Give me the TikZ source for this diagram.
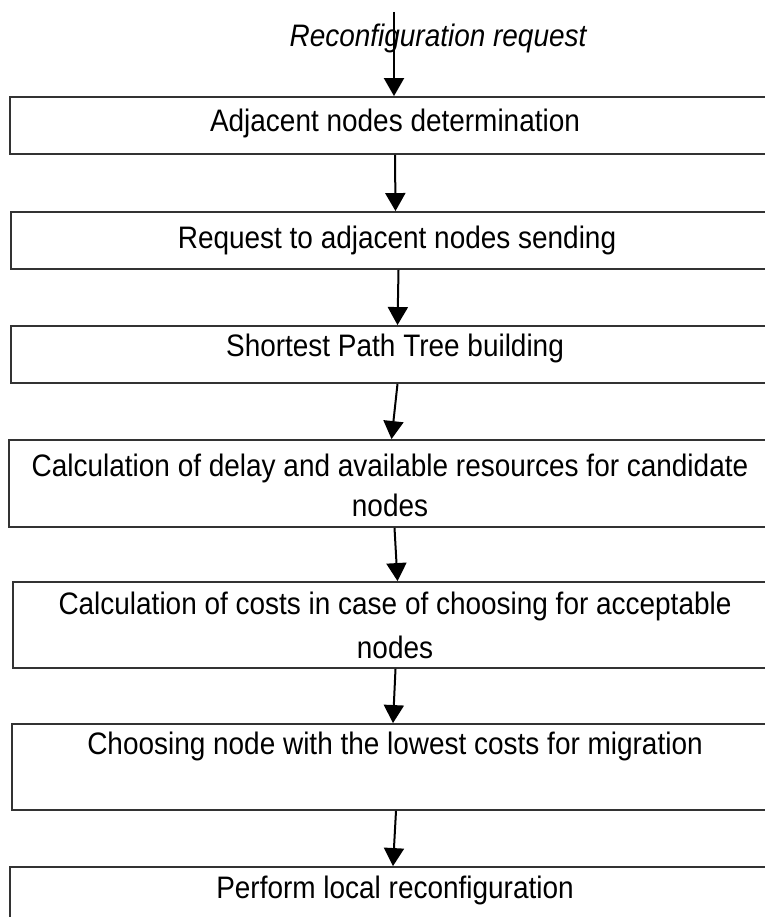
\documentclass[tikz,border=0pt]{standalone}
\usepackage{fontspec}
\setmainfont[FakeStretch=0.9]{Liberation Sans}
\usetikzlibrary{arrows.meta,fit,calc}
\definecolor{linegray}{HTML}{333333}
\begin{document}
\begin{tikzpicture}[x=0.75pt,y=-0.75pt,
  stepbox/.style={draw=linegray, line width=1.4pt, rectangle, inner sep=0pt},
  lbl/.style={font=\fontsize{23.3}{30}\selectfont, inner sep=0pt, align=center},
  arr/.style={draw=black, line width=1.5pt, -{Triangle[length=13.5pt,width=15pt]}}]
\useasboundingbox (0,0) rectangle (764,917);

% boxes
\node[stepbox, fit={(10,97) (780,154)}] (b1) {};
\node[stepbox, fit={(11,212) (780,269)}] (b2) {};
\node[stepbox, fit={(11,326) (780,383)}] (b3) {};
\node[stepbox, fit={(9,440) (780,527)}] (b4) {};
\node[stepbox, fit={(13,582) (780,668)}] (b5) {};
\node[stepbox, fit={(12,724) (780,810)}] (b6) {};
\node[stepbox, fit={(10,867) (780,940)}] (b7) {};

% texts
\node[lbl, font=\fontsize{23.3}{30}\selectfont\itshape] (t0) at (438,38) {Reconfiguration request};
\node[lbl] (t1) at (395,123) {Adjacent nodes determination};
\node[lbl] (t2) at (397,240) {Request to adjacent nodes sending};
\node[lbl] (t3) at (395,348) {Shortest Path Tree building};
\node[lbl] (t4) at (390,485) {Calculation of delay and available resources for candidate\\nodes};
\node[lbl] (t5) at (395,625) {Calculation of costs in case of choosing for acceptable\\[3pt]nodes};
\node[lbl] (t6) at (395,746) {Choosing node with the lowest costs for migration};
\node[lbl] (t7) at (395,890) {Perform local reconfiguration};

% arrows
\coordinate (start) at (394,12);
\draw[arr] (start) -- (start |- b1.north);
\draw[arr] (b1.south) -- (b2.north);
\draw[arr] ($(b2.south)+(3,0)$) -- ($(b3.north)+(2,0)$);
\draw[arr] ($(b3.south)+(2,0)$) -- ($(b4.north)+(-3,0)$);
\draw[arr] ($(b4.south)+(0,0)$) -- ($(b5.north)+(1,0)$);
\draw[arr] ($(b5.south)+(-1,0)$) -- ($(b6.north)+(-3,0)$);
\draw[arr] ($(b6.south)+(0,0)$) -- ($(b7.north)+(-2,0)$);
\end{tikzpicture}
\end{document}
